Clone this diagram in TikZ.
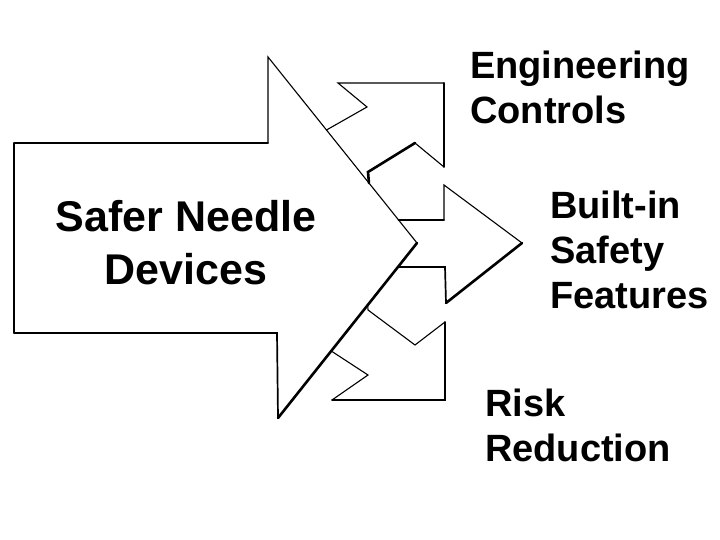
\documentclass[tikz,border=0pt]{standalone}
\usepackage{fontspec}
\setmainfont{Liberation Sans}
\usetikzlibrary{calc}
\tikzset{
  thinline/.style={line width=1.1pt, line join=miter, line cap=round},
  midline/.style={line width=1.7pt, line join=miter, line cap=round},
  thickline/.style={line width=2.6pt, line join=miter, line cap=round},
  biglabel/.style={inner sep=0pt, align=center, font=\bfseries\fontsize{43}{53}\selectfont},
  sidelabel/.style={inner sep=0pt, align=left, anchor=west, font=\bfseries\fontsize{38}{45}\selectfont},
}
\begin{document}
\begin{tikzpicture}[x=1pt,y=-1pt]
\useasboundingbox[fill=white] (0,0) rectangle (720,540);
% big arrow corners
\coordinate (bl) at (14,333);
\coordinate (tl) at (14,143);
\coordinate (tr) at (268,143);
\coordinate (A)  at (268,57);
\coordinate (T)  at (417,243);
\coordinate (B)  at (278,418);
\coordinate (br) at (277,333);
% points on the diagonals
\coordinate (u1) at ($(A)!{(130-57)/186}!(T)$);
\coordinate (u2) at ($(A)!{(183-57)/186}!(T)$);
\coordinate (u3) at ($(A)!{(220-57)/186}!(T)$);
\coordinate (l1) at ($(T)!{24/175}!(B)$);
\coordinate (l2) at ($(T)!{62/175}!(B)$);
\coordinate (l3) at ($(T)!{108/175}!(B)$);
% big arrow
\draw[thinline] (tl) -- (bl);
\draw[midline] (tl) -- (tr);
\draw[thinline] (tr) -- (A) -- (u3);
\draw[thinline] (u3) -- (T);
\draw[thickline] (T) -- (B);
\draw[midline] (B) -- (br) -- (bl);
% upper small arrow
\coordinate (e1) at (367,107);
\coordinate (e2) at (338,83);
\coordinate (e3) at (444,83);
\coordinate (e4) at (444,167);
\coordinate (e5) at (415,143);
\coordinate (e6) at (368,172);
\draw[thinline] (u1) -- (e1) -- (e2) -- (e3);
\draw[midline] (e3) -- (e4);
\draw[thinline] (e4) -- (e5);
\draw[thickline] (e5) -- (e6) -- (u2);
% middle small arrow
\coordinate (m1) at (444,220);
\coordinate (m2) at (444,185);
\coordinate (m3) at (522,243);
\coordinate (m4) at (446,303);
\coordinate (m5) at (445,267);
\draw[midline] (u3) -- (m1);
\draw[thinline] (m1) -- (m2) -- (m3);
\draw[thickline] (m3) -- (m4);
\draw[midline] (m4) -- (m5) -- (l1);
% lower small arrow
\coordinate (r1) at (368,310);
\coordinate (r2) at (415,345);
\coordinate (r3) at (445,322);
\coordinate (r4) at (445,400);
\coordinate (r5) at (332,400);
\coordinate (r6) at (368,375);
\draw[thinline] (l2) -- (r1) -- (r2) -- (r3);
\draw[midline] (r3) -- (r4) -- (r5);
\draw[thinline] (r5) -- (r6) -- (l3);
% labels
\node[biglabel] (main) at (186,243) {Safer Needle\\Devices};
\node[sidelabel] (eng) at (470,87) {Engineering\\Controls};
\node[sidelabel] (built) at (550,249.5) {Built-in\\Safety\\Features};
\node[sidelabel] (risk) at (485,425) {Risk\\Reduction};
\end{tikzpicture}
\end{document}
